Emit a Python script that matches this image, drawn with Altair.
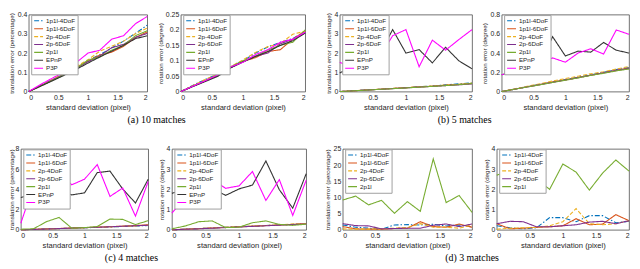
import altair as alt
import pandas as pd

X = [0, 0.2, 0.4, 0.6, 0.8, 1.0, 1.2, 1.4, 1.6, 1.8, 2.0]
SERIES = ["1p1l-4DoF", "1p1l-6DoF", "2p-4DoF", "2p-6DoF", "2p1l", "EPnP", "P3P"]
COLORS = ["#0072BD", "#D95319", "#EDB120", "#7E2F8E", "#77AC30", "#333333", "#FF00FF"]
DASHES = [[5, 2, 1.5, 2], [1, 0], [4, 2], [1, 0], [1, 0], [1, 0], [1, 0]]

# (a) 10 matches - translation
t10_1p1l4 = [0, 0.031, 0.062, 0.093, 0.126, 0.16, 0.192, 0.226, 0.262, 0.302, 0.345]
t10_1p1l6 = [0, 0.03, 0.06, 0.09, 0.123, 0.158, 0.19, 0.205, 0.235, 0.28, 0.31]
t10_2p4 = [0, 0.031, 0.063, 0.095, 0.13, 0.165, 0.21, 0.235, 0.262, 0.3, 0.33]
t10_2p6 = [0, 0.03, 0.06, 0.09, 0.12, 0.155, 0.185, 0.228, 0.245, 0.282, 0.302]
t10_2p1l = [0, 0.029, 0.058, 0.088, 0.12, 0.163, 0.18, 0.215, 0.24, 0.29, 0.316]
t10_epnp = [0, 0.028, 0.056, 0.085, 0.115, 0.148, 0.18, 0.21, 0.24, 0.275, 0.29]
t10_p3p = [0, 0.037, 0.07, 0.102, 0.15, 0.2, 0.215, 0.272, 0.29, 0.352, 0.39]
# (a) 10 matches - rotation
r10_1p1l4 = [0, 0.021, 0.04, 0.058, 0.08, 0.1, 0.125, 0.145, 0.16, 0.172, 0.195]
r10_1p1l6 = [0, 0.018, 0.035, 0.053, 0.078, 0.098, 0.11, 0.13, 0.136, 0.17, 0.197]
r10_2p4 = [0, 0.02, 0.04, 0.058, 0.081, 0.103, 0.127, 0.146, 0.156, 0.186, 0.196]
r10_2p6 = [0, 0.017, 0.035, 0.052, 0.077, 0.097, 0.115, 0.125, 0.155, 0.17, 0.19]
r10_2p1l = [0, 0.018, 0.036, 0.057, 0.08, 0.1, 0.115, 0.135, 0.15, 0.16, 0.2]
r10_epnp = [0, 0.017, 0.033, 0.05, 0.077, 0.096, 0.114, 0.13, 0.15, 0.165, 0.19]
r10_p3p = [0, 0.018, 0.036, 0.055, 0.08, 0.095, 0.12, 0.136, 0.16, 0.17, 0.193]
# (b) 5 matches - translation
t5_1p1l4 = [0, 0.04, 0.08, 0.12, 0.16, 0.2, 0.25, 0.29, 0.35, 0.4, 0.45]
t5_1p1l6 = [0, 0.04, 0.08, 0.12, 0.16, 0.2, 0.24, 0.28, 0.33, 0.37, 0.42]
t5_2p4 = [0, 0.04, 0.085, 0.125, 0.165, 0.205, 0.25, 0.29, 0.34, 0.38, 0.44]
t5_2p6 = [0, 0.04, 0.08, 0.115, 0.155, 0.195, 0.235, 0.27, 0.31, 0.35, 0.4]
t5_2p1l = [0, 0.038, 0.075, 0.115, 0.15, 0.19, 0.23, 0.27, 0.31, 0.36, 0.42]
t5_epnp = [0.97, 1.29, 1.5, 1.9, 3.22, 2.0, 2.18, 1.49, 2.3, 1.6, 1.18]
t5_p3p = [1.52, 1.25, 1.0, 1.8, 2.9, 3.22, 1.29, 2.67, 2.15, 2.7, 3.22]
# (b) 5 matches - rotation
r5_1p1l4 = [0, 0.025, 0.05, 0.075, 0.1, 0.125, 0.15, 0.175, 0.2, 0.23, 0.25]
r5_1p1l6 = [0, 0.025, 0.05, 0.073, 0.1, 0.12, 0.145, 0.17, 0.195, 0.22, 0.245]
r5_2p4 = [0, 0.027, 0.055, 0.08, 0.11, 0.135, 0.16, 0.185, 0.205, 0.235, 0.26]
r5_2p6 = [0, 0.024, 0.048, 0.072, 0.096, 0.12, 0.145, 0.17, 0.195, 0.22, 0.24]
r5_2p1l = [0, 0.024, 0.048, 0.07, 0.095, 0.118, 0.142, 0.168, 0.19, 0.215, 0.235]
r5_epnp = [0.175, 0.21, 0.25, 0.28, 0.57, 0.37, 0.42, 0.41, 0.51, 0.43, 0.4]
r5_p3p = [0.175, 0.205, 0.19, 0.3, 0.35, 0.305, 0.4, 0.445, 0.39, 0.64, 0.595]
# (c) 4 matches - translation
t4_1p1l4 = [0, 0.04, 0.08, 0.12, 0.16, 0.2, 0.24, 0.28, 0.33, 0.37, 0.42]
t4_1p1l6 = [0, 0.05, 0.09, 0.13, 0.18, 0.22, 0.26, 0.31, 0.36, 0.42, 0.5]
t4_2p4 = [0, 0.04, 0.08, 0.12, 0.16, 0.2, 0.25, 0.29, 0.34, 0.38, 0.45]
t4_2p6 = [0, 0.04, 0.08, 0.12, 0.17, 0.21, 0.25, 0.3, 0.35, 0.4, 0.45]
t4_2p1l = [0.06, 0.1, 0.8, 1.22, 0.16, 0.22, 0.32, 1.06, 1.03, 0.52, 0.9]
t4_epnp = [3.2, 3.5, 3.9, 3.8, 3.45, 3.65, 5.65, 5.8, 4.03, 2.65, 5.0]
t4_p3p = [0.65, 4.4, 5.0, 5.6, 4.45, 5.0, 6.45, 3.3, 4.13, 1.35, 4.77]
# (c) 4 matches - rotation
r4_1p1l4 = [0, 0.03, 0.06, 0.09, 0.13, 0.15, 0.18, 0.21, 0.24, 0.27, 0.3]
r4_1p1l6 = [0, 0.03, 0.06, 0.09, 0.12, 0.15, 0.18, 0.21, 0.24, 0.27, 0.31]
r4_2p4 = [0, 0.03, 0.06, 0.09, 0.12, 0.15, 0.18, 0.21, 0.24, 0.28, 0.31]
r4_2p6 = [0, 0.03, 0.05, 0.08, 0.11, 0.14, 0.17, 0.2, 0.23, 0.26, 0.29]
r4_2p1l = [0.05, 0.19, 0.4, 0.44, 0.11, 0.13, 0.35, 0.44, 0.27, 0.22, 0.28]
r4_epnp = [1.8, 2.0, 2.2, 2.05, 1.7, 2.02, 2.21, 3.4, 1.98, 1.07, 2.77]
r4_p3p = [0.82, 1.6, 2.3, 2.5, 2.05, 2.17, 2.88, 1.45, 2.48, 0.71, 2.45]
# (d) 3 matches - translation
t3_1p1l4 = [1.5, 0.8, 0.5, 0.2, 1.5, 1.6, 1.5, 1.7, 1.2, 1.5, 0.9]
t3_1p1l6 = [1.0, 0.3, 0.2, 0.2, 0.4, 0.5, 2.5, 1.0, 0.8, 1.8, 0.8]
t3_2p4 = [0.3, 0.2, 0.2, 0.3, 0.5, 0.7, 1.9, 0.8, 0.8, 0.5, 1.5]
t3_2p6 = [1.9, 1.3, 1.2, 0.3, 0.4, 0.5, 0.5, 1.4, 1.8, 1.0, 1.8]
t3_2p1l = [9.2, 10.4, 7.7, 9.1, 5.1, 8.7, 5.7, 21.9, 8.4, 10.6, 5.4]
# (d) 3 matches - rotation
r3_1p1l4 = [0.2, 0.1, 0.05, 0.1, 0.6, 0.6, 0.4, 0.7, 0.7, 0.35, 0.42]
r3_1p1l6 = [0.3, 0.05, 0.08, 0.12, 0.15, 0.2, 0.55, 0.25, 0.28, 0.75, 0.45]
r3_2p4 = [0.03, 0.08, 0.1, 0.12, 0.2, 0.4, 1.05, 0.3, 0.25, 0.3, 0.45]
r3_2p6 = [0.3, 0.42, 0.4, 0.15, 0.15, 0.2, 0.25, 0.38, 0.42, 0.3, 0.45]
r3_2p1l = [2.7, 2.9, 2.6, 2.5, 2.0, 3.25, 2.85, 1.96, 2.8, 3.45, 2.9]

XTICKS = [0, 0.5, 1, 1.5, 2]
T_TITLE = "translation error (percentage)"
R_TITLE = "rotation error (degree)"
FONT = "Liberation Sans"
H1, H2 = 78, 82


def panel(vals, yticks, ytitle, w, h, ext, caption=None, dx=0):
    names = SERIES[:len(vals)]
    rows = []
    for n, ys in zip(names, vals):
        for xv, yv in zip(X, ys):
            rows.append({"x": xv, "y": yv, "method": n})
    df = pd.DataFrame(rows)
    leg = alt.Legend(title=None, orient="none", legendX=2.5, legendY=0.5)
    ch = alt.Chart(df).mark_line(strokeWidth=1.1).encode(
        x=alt.X("x:Q", scale=alt.Scale(domain=[0, 2], nice=False),
                axis=alt.Axis(values=XTICKS, format="~g", title="standard deviation (pixel)")),
        y=alt.Y("y:Q", scale=alt.Scale(domain=[0, yticks[-1]], nice=False),
                axis=alt.Axis(values=yticks, format="~g", title=ytitle,
                              minExtent=ext, maxExtent=ext)),
        color=alt.Color("method:N", scale=alt.Scale(domain=names, range=COLORS[:len(names)]), legend=leg),
        strokeDash=alt.StrokeDash("method:N", scale=alt.Scale(domain=names, range=DASHES[:len(names)]), legend=leg),
    ).properties(width=w, height=h,
                 view=alt.ViewBackground(stroke="#4d4d4d", strokeWidth=0.8, strokeOpacity=1))
    if caption:
        ch = ch.properties(title=alt.TitleParams(
            text=caption, orient="bottom", anchor="middle", frame="group", dx=dx, offset=4,
            font="Liberation Serif", fontSize=10, fontWeight="normal", color="black"))
    return ch


def spacer(w, h):
    return alt.Chart(pd.DataFrame({"v": [0]})).mark_point(opacity=0).encode(
        x=alt.X("v:Q", axis=None), y=alt.Y("v:Q", axis=None)
    ).properties(width=w, height=h, view=alt.ViewBackground(strokeOpacity=0))


def row(cells):
    return alt.hconcat(*cells, spacing=0, bounds="flush").resolve_scale(
        color="independent", strokeDash="independent", x="independent", y="independent"
    ).resolve_legend(color="independent", strokeDash="independent")


p1 = panel([t10_1p1l4, t10_1p1l6, t10_2p4, t10_2p6, t10_2p1l, t10_epnp, t10_p3p],
           [0, 0.1, 0.2, 0.3, 0.4], T_TITLE, 120, H1, 12, "(a) 10 matches", 69.5)
p2 = panel([r10_1p1l4, r10_1p1l6, r10_2p4, r10_2p6, r10_2p1l, r10_epnp, r10_p3p],
           [0, 0.05, 0.1, 0.15, 0.2, 0.25], R_TITLE, 126, H1, 15.6)
p3 = panel([t5_1p1l4, t5_1p1l6, t5_2p4, t5_2p6, t5_2p1l, t5_epnp, t5_p3p],
           [0, 1, 2, 3, 4], T_TITLE, 134, H1, 6, "(b) 5 matches", 59.5)
p4 = panel([r5_1p1l4, r5_1p1l6, r5_2p4, r5_2p6, r5_2p1l, r5_epnp, r5_p3p],
           [0, 0.2, 0.4, 0.6, 0.8], R_TITLE, 129, H1, 12)
p5 = panel([t4_1p1l4, t4_1p1l6, t4_2p4, t4_2p6, t4_2p1l, t4_epnp, t4_p3p],
           [0, 2, 4, 6, 8], T_TITLE, 129, H2, 4, "(c) 4 matches", 47.5)
p6 = panel([r4_1p1l4, r4_1p1l6, r4_2p4, r4_2p6, r4_2p1l, r4_epnp, r4_p3p],
           [0, 1, 2, 3, 4], R_TITLE, 136, H2, 6)
p7 = panel([t3_1p1l4, t3_1p1l6, t3_2p4, t3_2p6, t3_2p1l],
           [0, 5, 10, 15, 20, 25], T_TITLE, 131, H2, 10, "(d) 3 matches", 65.5)
p8 = panel([r3_1p1l4, r3_1p1l6, r3_2p4, r3_2p6, r3_2p1l],
           [0, 1, 2, 3, 4], R_TITLE, 134, H2, 5)

row1 = row([spacer(8, H1), p1, spacer(34, H1), p2, spacer(35, H1), p3, spacer(30, H1), p4])
row2 = row([p5, spacer(24, H2), p6, spacer(37, H2), p7, spacer(25, H2), p8])

chart = alt.vconcat(row1, row2, spacing=18).resolve_scale(
    color="independent", strokeDash="independent", x="independent", y="independent"
).resolve_legend(
    color="independent", strokeDash="independent"
).properties(padding=0).configure_axis(
    labelFont=FONT, titleFont=FONT, labelFontSize=7, labelColor="#262626",
    titleColor="#262626", titleFontWeight="normal", grid=False, ticks=False,
    tickSize=0, domain=False, labelPadding=2
).configure_axisX(
    titleFontSize=7.7, titlePadding=3
).configure_axisY(
    titleFontSize=6.3, titlePadding=2
).configure_legend(
    labelFont=FONT, labelFontSize=6.3, labelColor="#262626", symbolStrokeWidth=1.1,
    symbolSize=81, symbolType="stroke", clipHeight=7.6, rowPadding=0, labelOffset=2,
    padding=2, fillColor="white", strokeColor="#a0a0a0"
)

chart.save("out.html", embed_options={"renderer": "svg", "actions": False})
